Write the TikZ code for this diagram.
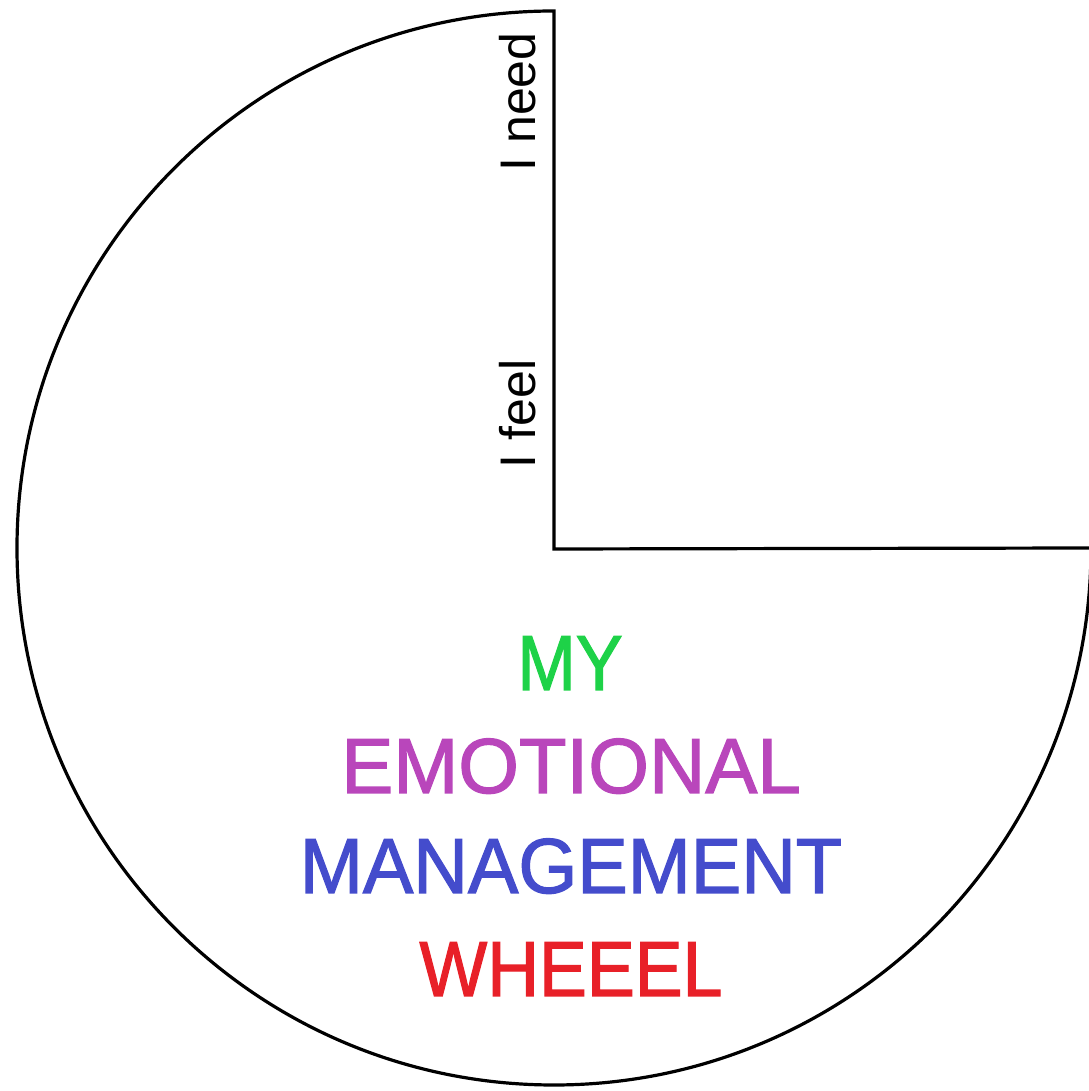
\documentclass[tikz,border=0pt]{standalone}
\usepackage{fontspec}
\setmainfont{Liberation Sans}
\newfontfamily\titlefont[FakeBold=1.6]{Liberation Sans}
\definecolor{cgreen}{RGB}{30,210,72}
\definecolor{cpurple}{RGB}{185,70,187}
\definecolor{cblue}{RGB}{68,76,204}
\definecolor{cred}{RGB}{232,32,40}
\begin{document}
\begin{tikzpicture}[x=1pt,y=1pt,
  wheel/.style={draw=black,line width=3.2pt,line join=miter},
  sidelabel/.style={rotate=90,anchor=base,inner sep=0pt,font=\fontsize{50}{50}\selectfont},
  title/.style={anchor=base,inner sep=0pt,font=\titlefont\fontsize{78}{78}\selectfont}]
\useasboundingbox (0,0) rectangle (1088,1091);
\coordinate (c) at (554,542);
\coordinate (top) at (554,1080);
\draw[wheel] (c) -- (top) arc[start angle=90,end angle=360,radius=537] -- cycle;
\node[sidelabel] (need) at (535,989) {I need};
\node[sidelabel] (feel) at (535,677) {I feel};
\node[title,text=cgreen,xscale=0.9] (my) at (570,401) {MY};
\node[title,text=cpurple,xscale=1.0] (emo) at (571,298) {EMOTIONAL};
\node[title,text=cblue,xscale=0.97] (man) at (571,198) {MANAGEMENT};
\node[title,text=cred,xscale=0.92] (whe) at (571,95) {WHEEEL};
\end{tikzpicture}
\end{document}
